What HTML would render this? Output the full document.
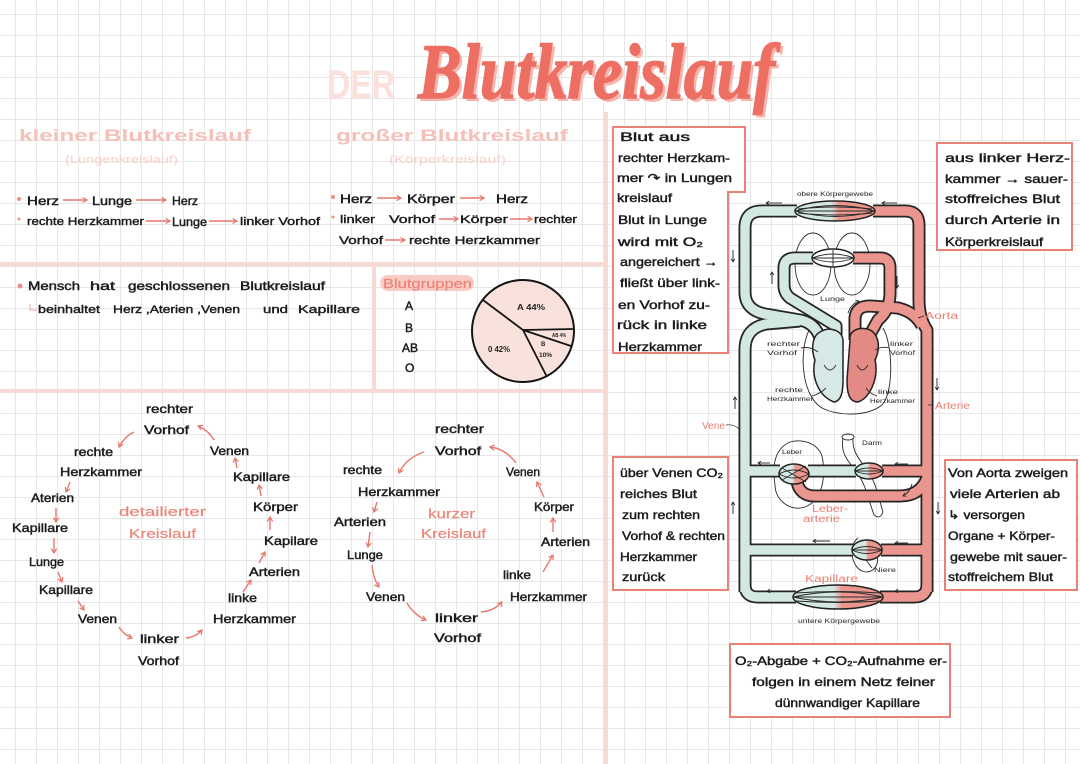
<!DOCTYPE html>
<html>
<head>
<meta charset="utf-8">
<style>
html,body{margin:0;padding:0;background:#fff;}
svg{display:block;}
.t{font-family:"Liberation Sans","DejaVu Sans",sans-serif;font-size:12px;fill:#1c1c1c;stroke:#1c1c1c;stroke-width:.45;}
.s{font-family:"Liberation Sans","DejaVu Sans",sans-serif;font-size:11px;fill:#1c1c1c;stroke:#1c1c1c;stroke-width:.4;}
.h{font-family:"Liberation Sans","DejaVu Sans",sans-serif;font-size:17px;font-weight:bold;fill:#f6c0b9;}
.p{font-family:"Liberation Sans","DejaVu Sans",sans-serif;font-size:11px;fill:#f7d0cb;}
.pk{font-family:"Liberation Sans","DejaVu Sans",sans-serif;font-size:13px;fill:#ec8478;stroke:#ec8478;stroke-width:.2;}
.m{font-family:"Liberation Sans","DejaVu Sans",sans-serif;font-size:6.5px;fill:#222;}
.pl{font-family:"Liberation Sans","DejaVu Sans",sans-serif;font-size:10px;fill:#ec7f73;}
.der{font-family:"Liberation Sans","DejaVu Sans",sans-serif;font-weight:bold;font-size:40px;fill:#fbe0dc;}
.ttl{font-family:"Liberation Serif","DejaVu Serif",serif;font-style:italic;font-weight:bold;font-size:78px;}
.pie{font-family:"Liberation Sans","DejaVu Sans",sans-serif;font-weight:bold;fill:#222;}
.pa{fill:none;stroke:#e8776c;stroke-width:1.4;marker-end:url(#pa);}
.ba{fill:none;stroke:#222;stroke-width:.9;marker-end:url(#ba);}
.tb{fill:none;stroke:#262626;stroke-width:13;stroke-linejoin:round;}
.tbb{fill:none;stroke:#d3e7e3;stroke-width:9.4;stroke-linejoin:round;}
.tbp{fill:none;stroke:#ea958d;stroke-width:9.4;stroke-linejoin:round;}
.thin{fill:none;stroke:#2a2a2a;stroke-width:.9;}
.box{fill:#fff;stroke:#e88176;stroke-width:2;}
</style>
</head>
<body>
<svg width="1080" height="764" viewBox="0 0 1080 764" xmlns="http://www.w3.org/2000/svg">
<defs>
<pattern id="grid" width="21" height="21" patternUnits="userSpaceOnUse" x="15" y="14">
<path d="M0 .5H21M.5 0V21" stroke="#e6e6e6" stroke-width="1" fill="none"/>
</pattern>
<marker id="pa" viewBox="0 0 8 8" refX="6" refY="4" markerWidth="7" markerHeight="7" markerUnits="userSpaceOnUse" orient="auto"><path d="M1,1 L6,4 L1,7" fill="none" stroke="#e8776c" stroke-width="1.4"/></marker>
<marker id="ba" viewBox="0 0 8 8" refX="6" refY="4" markerWidth="5" markerHeight="5" markerUnits="userSpaceOnUse" orient="auto"><path d="M1,1 L6,4 L1,7" fill="none" stroke="#222" stroke-width="1.2"/></marker>
<linearGradient id="sp" x1="0" x2="1" y1="0" y2="0"><stop offset=".45" stop-color="#d3e7e3"/><stop offset=".55" stop-color="#ea958d"/></linearGradient>
</defs>
<rect width="1080" height="764" fill="#fff"/>
<rect width="1080" height="764" fill="url(#grid)"/>

<!-- dividers -->
<g stroke="#f8dad5" stroke-width="4" fill="none">
<path d="M0 264H606"/>
<path d="M0 391H606"/>
<path d="M606 112V764"/>
<path d="M374 264V391"/>
</g>

<!-- Title -->
<text class="der" x="327" y="98" textLength="68" lengthAdjust="spacingAndGlyphs">DER</text>
<text class="ttl" x="421" y="101" fill="#f6b5ad" textLength="357" lengthAdjust="spacingAndGlyphs">Blutkreislauf</text>
<text class="ttl" x="418" y="98" fill="#ed6f63" stroke="#ed6f63" stroke-width="1.5" textLength="357" lengthAdjust="spacingAndGlyphs">Blutkreislauf</text>

<!-- headings -->
<text class="h" x="19" y="141" textLength="232" lengthAdjust="spacingAndGlyphs">kleiner  Blutkreislauf</text>
<text class="p" x="65" y="163" textLength="113" lengthAdjust="spacingAndGlyphs">(Lungenkreislauf)</text>
<text class="h" x="336" y="141" textLength="232" lengthAdjust="spacingAndGlyphs">großer  Blutkreislauf</text>
<text class="p" x="389" y="163" textLength="117" lengthAdjust="spacingAndGlyphs">(Körperkreislauf)</text>

<!-- top rows -->
<circle cx="19" cy="199" r="2" fill="#ee8d83"/>
<circle cx="19" cy="219" r="1.5" fill="#ee8d83"/>
<circle cx="333" cy="197" r="2" fill="#ee8d83"/>
<circle cx="333" cy="217" r="1.5" fill="#ee8d83"/>
<text class="t" x="27" y="205" textLength="32" lengthAdjust="spacingAndGlyphs">Herz</text>
<text class="t" x="92" y="205" textLength="40" lengthAdjust="spacingAndGlyphs">Lunge</text>
<text class="t" x="172" y="205" textLength="26" lengthAdjust="spacingAndGlyphs">Herz</text>
<path class="pa" d="M63 200H87"/><path class="pa" d="M136 200H166"/>
<text class="s" x="27" y="225" textLength="117" lengthAdjust="spacingAndGlyphs">rechte  Herzkammer</text>
<text class="t" x="172" y="226" textLength="35" lengthAdjust="spacingAndGlyphs">Lunge</text>
<text class="s" x="240" y="225" textLength="80" lengthAdjust="spacingAndGlyphs">linker  Vorhof</text>
<path class="pa" d="M146 221H170"/><path class="pa" d="M209 221H237"/>

<text class="t" x="340" y="203" textLength="32" lengthAdjust="spacingAndGlyphs">Herz</text>
<text class="t" x="407" y="203" textLength="48" lengthAdjust="spacingAndGlyphs">Körper</text>
<text class="t" x="496" y="203" textLength="32" lengthAdjust="spacingAndGlyphs">Herz</text>
<path class="pa" d="M377 198H401"/><path class="pa" d="M460 198H484"/>
<text class="s" x="340" y="223" textLength="35" lengthAdjust="spacingAndGlyphs">linker</text>
<text class="s" x="389" y="223" textLength="46" lengthAdjust="spacingAndGlyphs">Vorhof</text>
<text class="s" x="460" y="223" textLength="48" lengthAdjust="spacingAndGlyphs">Körper</text>
<text class="s" x="534" y="223" textLength="43" lengthAdjust="spacingAndGlyphs">rechter</text>
<path class="pa" d="M439 219H458"/><path class="pa" d="M510 219H532"/>
<text class="s" x="339" y="244" textLength="44" lengthAdjust="spacingAndGlyphs">Vorhof</text>
<text class="s" x="409" y="244" textLength="131" lengthAdjust="spacingAndGlyphs">rechte  Herzkammer</text>
<path class="pa" d="M385 240H405"/>

<!-- Mensch -->
<circle cx="20" cy="286" r="2.5" fill="#ee8d83"/>
<text class="t" x="28" y="290" textLength="52" lengthAdjust="spacingAndGlyphs">Mensch</text>
<text class="t" x="90" y="290" textLength="25" lengthAdjust="spacingAndGlyphs">hat</text>
<text class="t" x="128" y="290" textLength="102" lengthAdjust="spacingAndGlyphs">geschlossenen</text>
<text class="t" x="240" y="290" textLength="85" lengthAdjust="spacingAndGlyphs">Blutkreislauf</text>
<path d="M30 304V310H37" fill="none" stroke="#f2b1a9" stroke-width="1.2"/>
<text class="s" x="38" y="313" textLength="62" lengthAdjust="spacingAndGlyphs">beinhaltet</text>
<text class="s" x="113" y="313" textLength="127" lengthAdjust="spacingAndGlyphs">Herz ,Aterien ,Venen</text>
<text class="s" x="263" y="313" textLength="25" lengthAdjust="spacingAndGlyphs">und</text>
<text class="s" x="298" y="313" textLength="62" lengthAdjust="spacingAndGlyphs">Kapillare</text>

<!-- Blutgruppen -->
<rect x="380" y="275" width="94" height="16" rx="8" fill="#f8cbc4"/>
<text class="pk" x="383" y="288" textLength="89" lengthAdjust="spacingAndGlyphs">Blutgruppen</text>
<text class="t" x="405" y="310" font-size="13">A</text>
<text class="t" x="405" y="332" font-size="13">B</text>
<text class="t" x="402" y="352" font-size="13">AB</text>
<text class="t" x="405" y="372" font-size="13">O</text>
<circle cx="523" cy="331" r="51" fill="#f9e2dc" stroke="#151515" stroke-width="2"/>
<g stroke="#151515" stroke-width="1.8"><path d="M523 330L483 300"/><path d="M523 330L574 329"/><path d="M523 330L571 346"/><path d="M523 330L547 377"/></g>
<text class="pie" x="517" y="310" font-size="8" textLength="28" lengthAdjust="spacingAndGlyphs">A 44%</text>
<text class="pie" x="488" y="352" font-size="8" textLength="22" lengthAdjust="spacingAndGlyphs">0 42%</text>
<text class="pie" x="552" y="337" font-size="5" textLength="14" lengthAdjust="spacingAndGlyphs">AB 4%</text>
<text class="pie" x="541" y="346" font-size="6">B</text>
<text class="pie" x="539" y="357" font-size="6" textLength="13" lengthAdjust="spacingAndGlyphs">10%</text>

<!-- detailed circuit -->
<text class="t" x="146" y="413" textLength="47" lengthAdjust="spacingAndGlyphs">rechter</text>
<text class="t" x="144" y="434" textLength="45" lengthAdjust="spacingAndGlyphs">Vorhof</text>
<text class="t" x="74" y="456" textLength="39" lengthAdjust="spacingAndGlyphs">rechte</text>
<text class="t" x="60" y="476" textLength="82" lengthAdjust="spacingAndGlyphs">Herzkammer</text>
<text class="t" x="31" y="502" textLength="43" lengthAdjust="spacingAndGlyphs">Aterien</text>
<text class="t" x="12" y="532" textLength="56" lengthAdjust="spacingAndGlyphs">Kapillare</text>
<text class="t" x="29" y="566" textLength="35" lengthAdjust="spacingAndGlyphs">Lunge</text>
<text class="t" x="39" y="594" textLength="54" lengthAdjust="spacingAndGlyphs">Kapillare</text>
<text class="t" x="78" y="623" textLength="39" lengthAdjust="spacingAndGlyphs">Venen</text>
<text class="t" x="140" y="643" textLength="39" lengthAdjust="spacingAndGlyphs">linker</text>
<text class="t" x="138" y="665" textLength="41" lengthAdjust="spacingAndGlyphs">Vorhof</text>
<text class="t" x="228" y="602" textLength="29" lengthAdjust="spacingAndGlyphs">linke</text>
<text class="t" x="213" y="623" textLength="83" lengthAdjust="spacingAndGlyphs">Herzkammer</text>
<text class="t" x="249" y="576" textLength="51" lengthAdjust="spacingAndGlyphs">Arterien</text>
<text class="t" x="264" y="545" textLength="54" lengthAdjust="spacingAndGlyphs">Kapilare</text>
<text class="t" x="253" y="511" textLength="45" lengthAdjust="spacingAndGlyphs">Körper</text>
<text class="t" x="233" y="481" textLength="57" lengthAdjust="spacingAndGlyphs">Kapillare</text>
<text class="t" x="210" y="455" textLength="39" lengthAdjust="spacingAndGlyphs">Venen</text>
<text class="pk" x="119" y="516" textLength="87" lengthAdjust="spacingAndGlyphs">detailierter</text>
<text class="pk" x="129" y="538" textLength="67" lengthAdjust="spacingAndGlyphs">Kreislauf</text>
<path class="pa" d="M134 432Q124 437 119 447"/>
<path class="pa" d="M214 440Q208 430 198 426"/>
<path class="pa" d="M70 482L66 492"/>
<path class="pa" d="M56 508L56 522"/>
<path class="pa" d="M54 538L54 553"/>
<path class="pa" d="M58 572L62 582"/>
<path class="pa" d="M78 601L84 610"/>
<path class="pa" d="M119 627Q124 635 132 638"/>
<path class="pa" d="M186 638Q196 637 202 630"/>
<path class="pa" d="M243 592L251 580"/>
<path class="pa" d="M259 563L265 552"/>
<path class="pa" d="M270 530L270 517"/>
<path class="pa" d="M261 496L259 485"/>
<path class="pa" d="M237 468L235 458"/>

<!-- short circuit -->
<text class="t" x="435" y="433" textLength="49" lengthAdjust="spacingAndGlyphs">rechter</text>
<text class="t" x="435" y="455" textLength="46" lengthAdjust="spacingAndGlyphs">Vorhof</text>
<text class="t" x="343" y="474" textLength="39" lengthAdjust="spacingAndGlyphs">rechte</text>
<text class="t" x="358" y="496" textLength="82" lengthAdjust="spacingAndGlyphs">Herzkammer</text>
<text class="t" x="334" y="526" textLength="52" lengthAdjust="spacingAndGlyphs">Arterien</text>
<text class="t" x="347" y="559" textLength="36" lengthAdjust="spacingAndGlyphs">Lunge</text>
<text class="t" x="366" y="601" textLength="39" lengthAdjust="spacingAndGlyphs">Venen</text>
<text class="t" x="435" y="622" textLength="43" lengthAdjust="spacingAndGlyphs">linker</text>
<text class="t" x="434" y="642" textLength="47" lengthAdjust="spacingAndGlyphs">Vorhof</text>
<text class="t" x="503" y="579" textLength="28" lengthAdjust="spacingAndGlyphs">linke</text>
<text class="t" x="510" y="601" textLength="77" lengthAdjust="spacingAndGlyphs">Herzkammer</text>
<text class="t" x="541" y="546" textLength="49" lengthAdjust="spacingAndGlyphs">Arterien</text>
<text class="t" x="534" y="511" textLength="40" lengthAdjust="spacingAndGlyphs">Körper</text>
<text class="t" x="506" y="476" textLength="34" lengthAdjust="spacingAndGlyphs">Venen</text>
<text class="pk" x="428" y="518" textLength="47" lengthAdjust="spacingAndGlyphs">kurzer</text>
<text class="pk" x="421" y="538" textLength="65" lengthAdjust="spacingAndGlyphs">Kreislauf</text>
<path class="pa" d="M424 452Q406 458 399 473"/>
<path class="pa" d="M516 463Q506 449 490 447"/>
<path class="pa" d="M377 502L374 512"/>
<path class="pa" d="M370 532L368 547"/>
<path class="pa" d="M372 565Q373 578 379 587"/>
<path class="pa" d="M407 603Q414 615 426 620"/>
<path class="pa" d="M481 612Q494 611 502 602"/>
<path class="pa" d="M543 572L553 555"/>
<path class="pa" d="M553 532L553 518"/>
<path class="pa" d="M544 497L537 482"/>

<!-- Boxes -->
<path class="box" d="M613 127H745V192H728V353H613Z"/>
<rect class="box" x="937" y="143" width="135" height="107"/>
<rect class="box" x="613" y="457" width="115" height="133"/>
<rect class="box" x="945" y="460" width="132" height="130"/>
<rect class="box" x="730" y="644" width="220" height="73"/>

<text class="t" x="620" y="141" textLength="70" lengthAdjust="spacingAndGlyphs">Blut  aus</text>
<text class="t" x="618" y="162" textLength="112" lengthAdjust="spacingAndGlyphs">rechter Herzkam-</text>
<text class="t" x="617" y="182" textLength="115" lengthAdjust="spacingAndGlyphs">mer ↷ in Lungen</text>
<text class="t" x="617" y="202" textLength="55" lengthAdjust="spacingAndGlyphs">kreislauf</text>
<text class="t" x="618" y="224" textLength="89" lengthAdjust="spacingAndGlyphs">Blut in Lunge</text>
<text class="t" x="618" y="246" textLength="85" lengthAdjust="spacingAndGlyphs">wird  mit  O₂</text>
<text class="t" x="620" y="266" textLength="98" lengthAdjust="spacingAndGlyphs">angereichert →</text>
<text class="t" x="620" y="287" textLength="100" lengthAdjust="spacingAndGlyphs">fließt über link-</text>
<text class="t" x="618" y="309" textLength="92" lengthAdjust="spacingAndGlyphs">en Vorhof zu-</text>
<text class="t" x="617" y="329" textLength="90" lengthAdjust="spacingAndGlyphs">rück  in  linke</text>
<text class="t" x="618" y="351" textLength="84" lengthAdjust="spacingAndGlyphs">Herzkammer</text>

<text class="t" x="945" y="162" textLength="125" lengthAdjust="spacingAndGlyphs">aus  linker  Herz-</text>
<text class="t" x="945" y="183" textLength="123" lengthAdjust="spacingAndGlyphs">kammer → sauer-</text>
<text class="t" x="945" y="203" textLength="115" lengthAdjust="spacingAndGlyphs">stoffreiches  Blut</text>
<text class="t" x="945" y="224" textLength="115" lengthAdjust="spacingAndGlyphs">durch  Arterie  in</text>
<text class="t" x="945" y="246" textLength="98" lengthAdjust="spacingAndGlyphs">Körperkreislauf</text>

<text class="t" x="620" y="477" textLength="103" lengthAdjust="spacingAndGlyphs">über  Venen  CO₂</text>
<text class="t" x="620" y="498" textLength="77" lengthAdjust="spacingAndGlyphs">reiches  Blut</text>
<text class="t" x="622" y="519" textLength="78" lengthAdjust="spacingAndGlyphs">zum  rechten</text>
<text class="t" x="622" y="540" textLength="103" lengthAdjust="spacingAndGlyphs">Vorhof &amp; rechten</text>
<text class="t" x="620" y="561" textLength="77" lengthAdjust="spacingAndGlyphs">Herzkammer</text>
<text class="t" x="622" y="581" textLength="43" lengthAdjust="spacingAndGlyphs">zurück</text>

<text class="t" x="948" y="477" textLength="120" lengthAdjust="spacingAndGlyphs">Von  Aorta  zweigen</text>
<text class="t" x="950" y="498" textLength="110" lengthAdjust="spacingAndGlyphs">viele  Arterien  ab</text>
<text class="t" x="948" y="519" textLength="77" lengthAdjust="spacingAndGlyphs">↳ versorgen</text>
<text class="t" x="948" y="540" textLength="107" lengthAdjust="spacingAndGlyphs">Organe + Körper-</text>
<text class="t" x="950" y="561" textLength="117" lengthAdjust="spacingAndGlyphs">gewebe  mit  sauer-</text>
<text class="t" x="948" y="581" textLength="105" lengthAdjust="spacingAndGlyphs">stoffreichem  Blut</text>

<text class="t" x="735" y="665" textLength="212" lengthAdjust="spacingAndGlyphs">O₂-Abgabe  +  CO₂-Aufnahme   er-</text>
<text class="t" x="752" y="686" textLength="183" lengthAdjust="spacingAndGlyphs">folgen  in  einem  Netz  feiner</text>
<text class="t" x="775" y="707" textLength="145" lengthAdjust="spacingAndGlyphs">dünnwandiger  Kapillare</text>

<!-- ============ Circulation diagram ============ -->
<ellipse class="thin" cx="813" cy="264" rx="18" ry="31"/>
<ellipse class="thin" cx="852" cy="264" rx="18" ry="31"/>
<path class="thin" d="M790 442C805 438 822 445 823 462C825 480 822 500 805 507C790 512 775 500 775 485C773 470 772 450 790 442Z"/>
<path class="thin" d="M843 438C840 455 850 463 858 474C866 486 868 498 874 515"/>
<path class="thin" d="M853 438C852 452 860 460 867 470C876 482 878 496 883 512"/>
<ellipse class="thin" cx="848" cy="437" rx="6" ry="3" fill="#fff"/>
<path class="thin" d="M874 515Q880 520 883 512"/>
<path class="thin" d="M858 538C848 545 851 566 862 571C871 575 880 566 877 556"/>
<path class="thin" d="M812 325C798 345 800 395 822 408C840 417 868 416 882 405C894 392 893 345 883 328"/>

<g class="tb">
<path d="M797 211H762Q745 211 745 228V292Q745 310 765 314L800 320Q815 323 820 338"/>
<path d="M745 592V350Q745 328 766 324L800 321"/>
<path d="M873 211H905Q919 211 919 225V300Q919 318 927 330V592"/>
<path d="M855 340V318Q856 306 870 306L898 308Q915 312 922 326"/>
<path d="M836 346V326L790 298Q784 293 784 285V268Q784 258 795 258H813"/>
<path d="M853 258H880Q890 258 890 268V293Q890 310 878 320L868 338"/>
<path d="M745 585Q745 597 758 597H796"/>
<path d="M927 585Q927 597 914 597H880"/>
<path d="M745 471H780"/><path d="M808 471H856"/><path d="M882 471H927"/>
<path d="M927 478Q920 496 900 496H815Q800 496 797 482"/>
<path d="M745 550H853"/><path d="M881 550H927"/>
</g>
<g>
<path class="tbb" d="M797 211H762Q745 211 745 228V292Q745 310 765 314L800 320Q815 323 820 338"/>
<path class="tbb" d="M745 592V350Q745 328 766 324L800 321"/>
<path class="tbp" d="M873 211H905Q919 211 919 225V300Q919 318 927 330V592"/>
<path class="tbp" d="M855 340V318Q856 306 870 306L898 308Q915 312 922 326"/>
<path class="tbb" d="M836 346V326L790 298Q784 293 784 285V268Q784 258 795 258H813"/>
<path class="tbp" d="M853 258H880Q890 258 890 268V293Q890 310 878 320L868 338"/>
<path class="tbb" d="M745 585Q745 597 758 597H797"/>
<path class="tbp" d="M927 585Q927 597 914 597H879"/>
<path class="tbb" d="M745 471H781"/><path class="tbb" d="M807 471H857"/><path class="tbp" d="M881 471H927"/>
<path class="tbp" d="M927 478Q920 496 900 496H815Q800 496 797 482"/>
<path class="tbb" d="M745 550H854"/><path class="tbp" d="M880 550H927"/>
</g>

<path d="M820 332C812 336 811 350 815 360C811 376 818 396 834 402C842 401 843 390 843 380V340C842 330 829 326 820 332Z" fill="#d6e9e6" stroke="#222" stroke-width="1.5"/>
<path d="M850 340C848 330 862 325 872 331C881 339 879 352 875 360C879 378 870 398 858 402C848 402 847 390 847 380Z" fill="#e38a84" stroke="#222" stroke-width="1.5"/>
<path d="M824 365Q830 375 836 365" class="thin"/>
<path d="M857 365Q862 375 868 365" class="thin"/>

<g stroke="#222" stroke-width="1.5">
<ellipse cx="835" cy="211" rx="40" ry="10" fill="url(#sp)"/>
<ellipse cx="833" cy="258" rx="21" ry="9" fill="#fff"/>
<ellipse cx="794" cy="474" rx="15" ry="10" fill="url(#sp)"/>
<ellipse cx="869" cy="471" rx="14" ry="8" fill="url(#sp)"/>
<ellipse cx="867" cy="550" rx="15" ry="10" fill="url(#sp)"/>
<ellipse cx="838" cy="597" rx="45" ry="12" fill="url(#sp)"/>
</g>
<g class="thin" stroke-width="1.1">
<path d="M795 211Q835 200 875 211"/><path d="M795 211Q835 222 875 211"/><path d="M797 211H873"/><path d="M798 209Q835 205 872 209"/><path d="M798 213Q835 217 872 213"/>
<path d="M812 258Q833 250 854 258"/><path d="M812 258Q833 266 854 258"/><path d="M813 258H853"/><path d="M833 250V266"/>
<path d="M779 474Q794 466 809 474"/><path d="M779 474Q794 482 809 474"/><path d="M782 468L806 482"/><path d="M782 480L806 466"/>
<path d="M855 471Q869 465 883 471"/><path d="M855 471Q869 477 883 471"/><path d="M856 471H882"/>
<path d="M852 550Q867 543 882 550"/><path d="M852 550Q867 557 882 550"/><path d="M853 550H881"/>
<path d="M793 597Q838 587 883 597"/><path d="M793 597Q838 607 883 597"/><path d="M795 597H881"/><path d="M796 593Q838 590 880 593"/><path d="M796 601Q838 604 880 601"/>
</g>

<text class="m" x="797" y="196" textLength="76" lengthAdjust="spacingAndGlyphs">obere Körpergewebe</text>
<text class="m" x="798" y="623" textLength="82" lengthAdjust="spacingAndGlyphs">untere Körpergewebe</text>
<text class="m" x="820" y="301" font-size="7" textLength="25" lengthAdjust="spacingAndGlyphs">Lunge</text>
<text class="m" x="767" y="346" textLength="33" lengthAdjust="spacingAndGlyphs">rechter</text>
<text class="m" x="767" y="355" textLength="30" lengthAdjust="spacingAndGlyphs">Vorhof</text>
<text class="m" x="890" y="346" textLength="23" lengthAdjust="spacingAndGlyphs">linker</text>
<text class="m" x="890" y="355" textLength="25" lengthAdjust="spacingAndGlyphs">Vorhof</text>
<text class="m" x="775" y="392" textLength="28" lengthAdjust="spacingAndGlyphs">rechte</text>
<text class="m" x="767" y="401" textLength="46" lengthAdjust="spacingAndGlyphs">Herzkammer</text>
<text class="m" x="878" y="394" textLength="20" lengthAdjust="spacingAndGlyphs">linke</text>
<text class="m" x="870" y="403" textLength="45" lengthAdjust="spacingAndGlyphs">Herzkammer</text>
<text class="m" x="782" y="454" textLength="20" lengthAdjust="spacingAndGlyphs">Leber</text>
<text class="m" x="862" y="445" textLength="20" lengthAdjust="spacingAndGlyphs">Darm</text>
<text class="m" x="874" y="572" textLength="22" lengthAdjust="spacingAndGlyphs">Niere</text>
<g class="thin" stroke-width=".7">
<path d="M801 348Q810 346 818 352"/><path d="M889 348Q882 346 875 350"/><path d="M812 396Q820 394 826 388"/><path d="M877 396Q870 394 866 388"/><path d="M872 568L866 560"/>
</g>
<text class="pl" x="925" y="319" font-size="11" textLength="33" lengthAdjust="spacingAndGlyphs">Aorta</text>
<text class="pl" x="935" y="409" textLength="35" lengthAdjust="spacingAndGlyphs">Arterie</text>
<text class="pl" x="702" y="429" textLength="23" lengthAdjust="spacingAndGlyphs">Vene</text>
<text class="pl" x="812" y="512" font-size="9" textLength="36" lengthAdjust="spacingAndGlyphs">Leber-</text>
<text class="pl" x="803" y="522" font-size="9" textLength="37" lengthAdjust="spacingAndGlyphs">arterie</text>
<text class="pl" x="805" y="582" font-size="11" textLength="53" lengthAdjust="spacingAndGlyphs">Kapillare</text>
<g stroke="#222" stroke-width=".7" fill="none"><path d="M924 316L918 318"/><path d="M933 405H928"/><path d="M726 425Q734 424 739 429"/></g>

<path class="ba" d="M782 203H766"/>
<path class="ba" d="M897 203H882"/>
<path class="ba" d="M733 250V262"/>
<path class="ba" d="M772 284V272"/>
<path class="ba" d="M897 276V288"/>
<path class="ba" d="M937 378V390"/>
<path class="ba" d="M735 409V397"/>
<path class="ba" d="M770 463H758"/>
<path class="ba" d="M908 464H895"/>
<path class="ba" d="M733 514V502"/>
<path class="ba" d="M938 502V514"/>
<path class="ba" d="M830 541H813"/>
<path class="ba" d="M908 543H895"/>
<path class="ba" d="M782 591H767"/>
<path class="ba" d="M908 591H895"/>
<path class="ba" d="M848 313Q851 304 859 301"/>
<path class="ba" d="M912 484Q910 492 903 496"/>
</svg>
</body>
</html>
